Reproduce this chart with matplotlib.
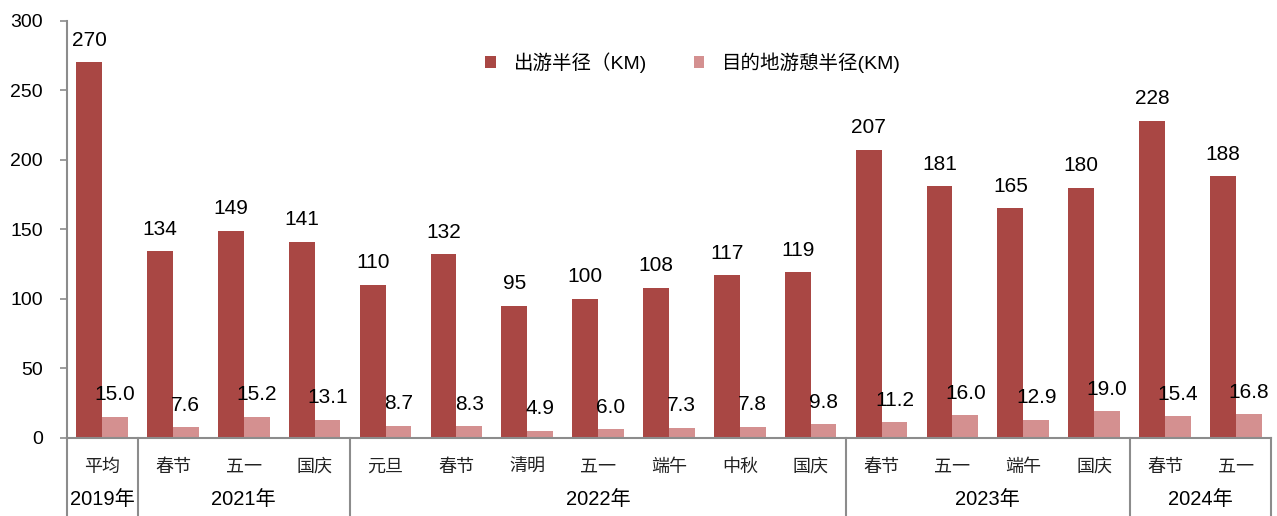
import matplotlib
matplotlib.use("Agg")
import matplotlib.pyplot as plt
import matplotlib.transforms as mtransforms
import numpy as np

plt.rcParams["font.family"] = ["Liberation Sans", "Noto Sans CJK SC"]

# Holiday travel radius data
categories = ["平均", "春节", "五一", "国庆",
              "元旦", "春节", "清明", "五一", "端午", "中秋", "国庆",
              "春节", "五一", "端午", "国庆",
              "春节", "五一"]
trip_radius = [270, 134, 149, 141, 110, 132, 95, 100, 108, 117, 119,
               207, 181, 165, 180, 228, 188]
dest_radius = [15.0, 7.6, 15.2, 13.1, 8.7, 8.3, 4.9, 6.0, 7.3, 7.8, 9.8,
               11.2, 16.0, 12.9, 19.0, 15.4, 16.8]
years = ["2019年", "2021年", "2022年", "2023年", "2024年"]
year_sizes = [1, 3, 7, 4, 2]

dark = "#A94744"
light = "#D49090"
axis_gray = "#8C8C8C"


def main():
    fig = plt.figure(figsize=(12.77, 5.16), dpi=100)
    ax = fig.add_axes([0.0522, 0.1517, 0.9433, 0.8082])

    x = np.arange(len(categories))
    w = 0.364
    b1 = ax.bar(x - w / 2, trip_radius, w, color=dark, label="出游半径（KM)")
    b2 = ax.bar(x + w / 2, dest_radius, w, color=light, label="目的地游憩半径(KM)")

    for rect, v in zip(b1, trip_radius):
        ax.annotate(f"{v}", (rect.get_x() + rect.get_width() / 2, v),
                    xytext=(0, 9), textcoords="offset points",
                    ha="center", va="bottom", fontsize=15)
    for rect, v in zip(b2, dest_radius):
        ax.annotate(f"{v:.1f}", (rect.get_x() + rect.get_width() / 2, v),
                    xytext=(0, 9), textcoords="offset points",
                    ha="center", va="bottom", fontsize=15)

    ax.set_xlim(-0.5, len(categories) - 0.5)
    ax.set_ylim(0, 300)
    ax.set_yticks(range(0, 301, 50))
    ax.tick_params(axis="y", labelsize=14, length=5, width=1.2,
                   color=axis_gray, pad=12)

    ax.set_xticks(x)
    ax.set_xticklabels(categories, fontsize=13, color="#222222")
    ax.tick_params(axis="x", length=0, pad=15)

    for side in ["top", "right"]:
        ax.spines[side].set_visible(False)
    for side in ["left", "bottom"]:
        ax.spines[side].set_color(axis_gray)
        ax.spines[side].set_linewidth(1.5)

    # group separators below the axis and year labels
    trans = mtransforms.blended_transform_factory(ax.transData, ax.transAxes)
    bounds = np.concatenate([[0], np.cumsum(year_sizes)]) - 0.5
    for b in bounds:
        ax.plot([b, b], [0, -0.2], transform=trans, color=axis_gray,
                lw=1.5, clip_on=False)
    for i, yr in enumerate(years):
        mid = (bounds[i] + bounds[i + 1]) / 2
        ax.text(mid, -0.149, yr, transform=trans, ha="center", va="center",
                fontsize=14.5)

    ax.legend(loc="center", bbox_to_anchor=(0.52, 0.9), ncol=2, frameon=False,
              fontsize=14, handlelength=0.55, handleheight=0.55,
              handletextpad=0.9, columnspacing=2.4)

    fig.savefig("out.png", dpi=100)


if __name__ == "__main__":
    main()
